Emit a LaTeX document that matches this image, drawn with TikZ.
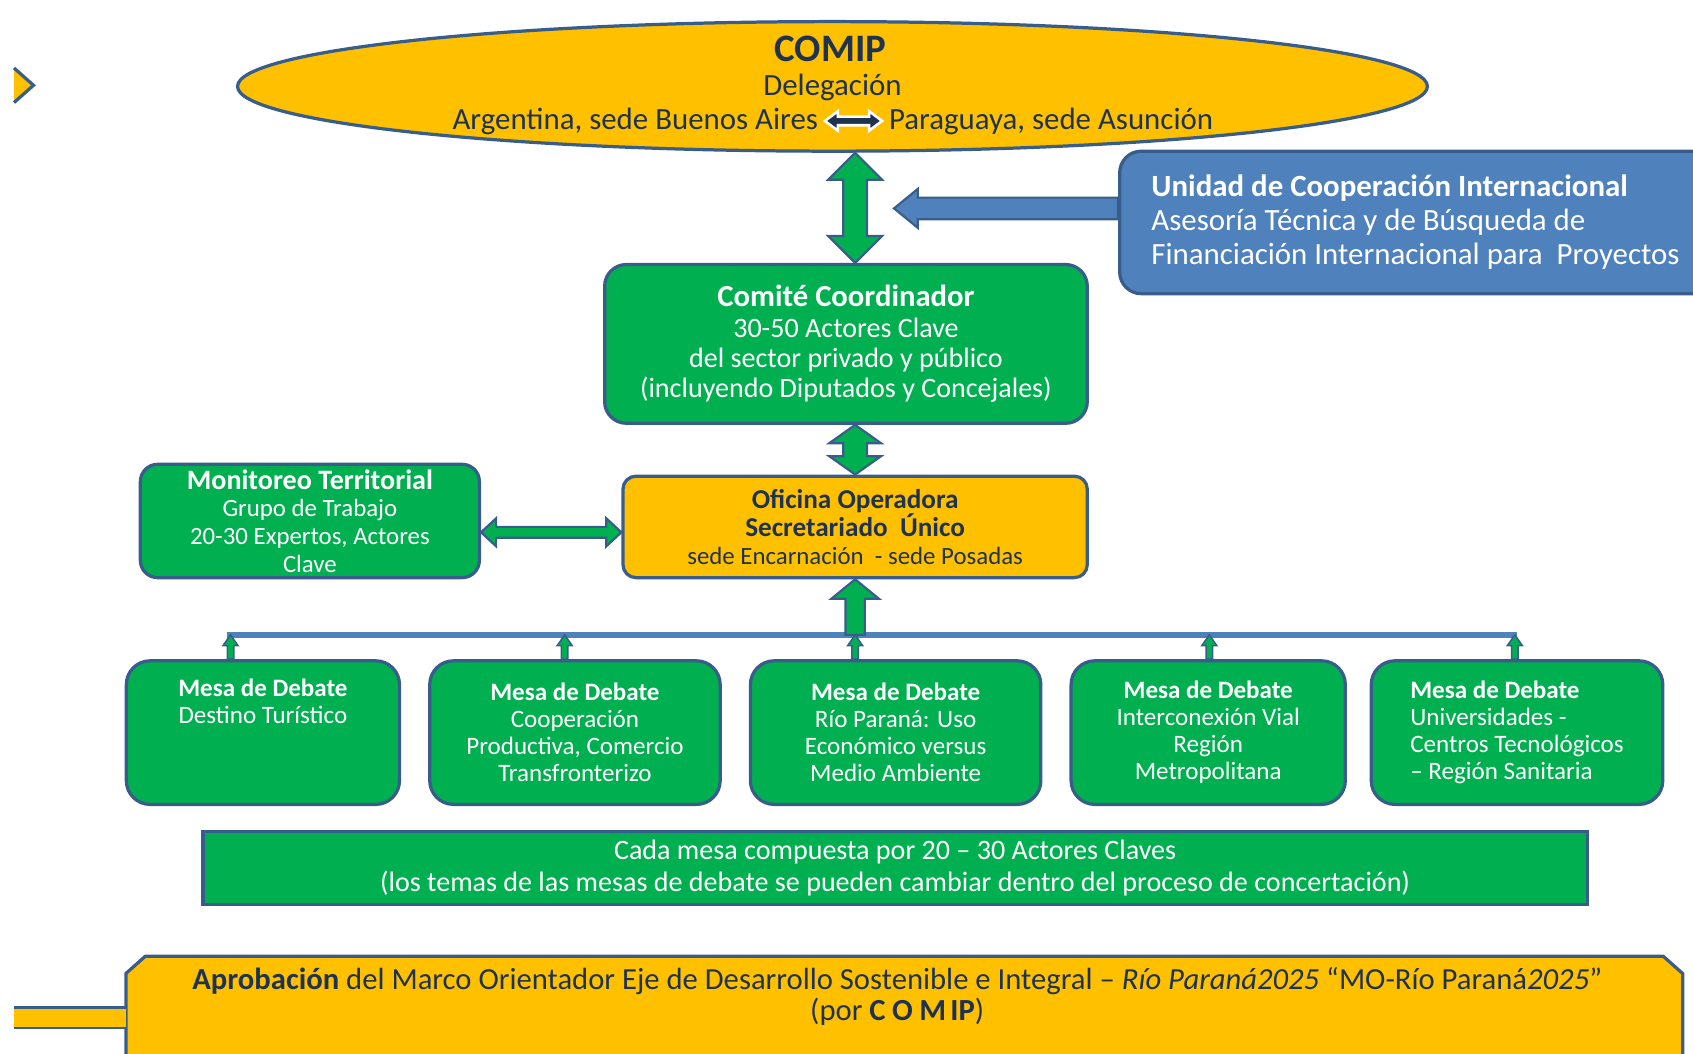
\documentclass[tikz,border=0pt]{standalone}
\usepackage{fontspec}
\setmainfont{Carlito}
\usetikzlibrary{shapes.geometric,calc}
\definecolor{cyel}{HTML}{FFC000}
\definecolor{cgrn}{HTML}{00B050}
\definecolor{cbdr}{HTML}{385D8A}
\definecolor{cblu}{HTML}{4F81BD}
\definecolor{cnav}{HTML}{1F3350}
% vertical double arrow: style, top, bottom, half head, half shaft, head length
\newcommand\myVDA[6]{\filldraw[#1] let \p1=(#2), \p2=(#3) in
 (\x1,\y1) -- (\x1+#4,\y1-#6) -- (\x1+#5,\y1-#6) -- (\x1+#5,\y2+#6) -- (\x1+#4,\y2+#6) -- (\x1,\y2)
 -- (\x1-#4,\y2+#6) -- (\x1-#5,\y2+#6) -- (\x1-#5,\y1-#6) -- (\x1-#4,\y1-#6) -- cycle;}
% horizontal double arrow: style, left, right, ...
\newcommand\myHDA[6]{\filldraw[#1] let \p1=(#2), \p2=(#3) in
 (\x1,\y1) -- (\x1+#6,\y1+#4) -- (\x1+#6,\y1+#5) -- (\x2-#6,\y1+#5) -- (\x2-#6,\y1+#4) -- (\x2,\y1)
 -- (\x2-#6,\y1-#4) -- (\x2-#6,\y1-#5) -- (\x1+#6,\y1-#5) -- (\x1+#6,\y1-#4) -- cycle;}
% up arrow: style, bottom, top (tip), ...
\newcommand\myUA[6]{\filldraw[#1] let \p1=(#2), \p2=(#3) in
 (\x1-#5,\y1) -- (\x1-#5,\y2-#6) -- (\x1-#4,\y2-#6) -- (\x1,\y2) -- (\x1+#4,\y2-#6) -- (\x1+#5,\y2-#6) -- (\x1+#5,\y1) -- cycle;}
% left arrow: style, right start, left tip, ...
\newcommand\myLA[6]{\filldraw[#1] let \p1=(#2), \p2=(#3) in
 (\x1,\y1+#5) -- (\x2+#6,\y1+#5) -- (\x2+#6,\y1+#4) -- (\x2,\y1) -- (\x2+#6,\y1-#4) -- (\x2+#6,\y1-#5) -- (\x1,\y1-#5) -- cycle;}
\begin{document}
\begin{tikzpicture}[x=0.5pt,y=-0.5pt,
  bx/.style={draw=cbdr, line width=1.5pt, inner sep=0pt, align=center},
  ell/.style={bx, ellipse, fill=cyel, minimum width=551pt, minimum height=60pt},
  gbox/.style={bx, fill=cgrn, text=white, rounded corners=10pt},
  ybox/.style={bx, fill=cyel, text=cnav, rounded corners=6pt},
  bbox/.style={bx, fill=cblu, rounded corners=10pt},
  mesa/.style={gbox, rounded corners=11pt, minimum height=66.5pt, font=\fontsize{11.6}{12.5}\selectfont},
  ntxt/.style={inner sep=3pt, text=cnav, font=\fontsize{14.3}{16}\selectfont},
  garr/.style={fill=cgrn, draw=cbdr, line width=1pt},
  sarr/.style={fill=cgrn, draw=cbdr, line width=0.7pt},
  barr/.style={fill=cblu, draw=cbdr, line width=1pt},
  narr/.style={fill=cnav, draw=white, line width=1.2pt},
  busl/.style={draw=cblu, line width=2.5pt}]
\useasboundingbox (0,0) rectangle (1568,976);
\clip (0,0) rectangle (1568,976);

% top-left chevron
\fill[cyel] (13,63) -- (31,79) -- (13,95) -- cycle;
\draw[cbdr, line width=1.5pt] (13,63) -- (31,79) -- (13,95);

% COMIP ellipse
\node[ell] (comip) at (771,80) {};
\node[ntxt, font=\bfseries\fontsize{18}{20}\selectfont] (tcomip) at (769,45) {COMIP};
\node[ntxt] (tdel) at (771,81) {Delegación};
\node[ntxt, anchor=east] (arg) at (764,112) {Argentina, sede Buenos Aires};
\node[ntxt, anchor=west] (par) at (817,112) {Paraguaya, sede Asunción};
\myHDA{narr}{arg.east}{par.west}{4.5pt}{2pt}{6pt}

% Unidad de Cooperacion
\node[bbox, minimum width=341.5pt, minimum height=66pt] (ucoop) at (1378.5,206) {};
\node[anchor=west, inner sep=0pt, align=left, text=white, font=\fontsize{14.3}{15.7}\selectfont] (tuc) at (1066,206)
  {\textbf{Unidad de Cooperación Internacional}\\Asesoría Técnica y de Búsqueda de\\Financiación Internacional para\ \ Proyectos};

% Comite
\node[gbox, minimum width=223.5pt, minimum height=73.5pt, font=\fontsize{13}{14}\selectfont] (cc) at (783.5,318.5)
  {{\fontsize{14.2}{14}\selectfont\bfseries Comité Coordinador}\\30-50 Actores Clave\\del sector privado y público\\(incluyendo Diputados y Concejales)};

% Oficina
\node[ybox, minimum width=215pt, minimum height=47pt, font=\fontsize{12.6}{13}\selectfont] (of) at (792,488)
  {\textbf{Oficina Operadora}\\\textbf{Secretariado\ \ Único}\\{\fontsize{11.5}{13}\selectfont sede Encarnación\ \ - sede Posadas}};

% Monitoreo
\node[gbox, rounded corners=8pt, minimum width=157pt, minimum height=52.5pt, font=\fontsize{11.5}{12.8}\selectfont] (mon) at (287,482.5)
  {{\fontsize{13}{12.8}\selectfont\bfseries Monitoreo Territorial}\\Grupo de Trabajo\\20-30 Expertos, Actores\\Clave};

% Mesas
\node[mesa, minimum width=126.5pt] (m1) at (243.5,678.5) {\textbf{Mesa de Debate}\\Destino Turístico\\\strut\\\strut};
\node[mesa, minimum width=134.5pt] (m2) at (532.5,678.5) {\textbf{Mesa de Debate}\\Cooperación\\Productiva, Comercio\\Transfronterizo};
\node[mesa, minimum width=134.5pt] (m3) at (829.5,678.5) {\textbf{Mesa de Debate}\\Río Paraná: Uso\\Económico versus\\Medio Ambiente};
\node[mesa, minimum width=127pt] (m4) at (1119,678.5) {\textbf{Mesa de Debate}\\Interconexión Vial\\Región\\Metropolitana};
\node[mesa, minimum width=135pt, align=left] (m5) at (1405,678.5) {\textbf{Mesa de Debate}\\Universidades -\\Centros Tecnológicos\\– Región Sanitaria\hspace*{10pt}};

% Cada mesa
\node[gbox, rounded corners=0pt, minimum width=641pt, minimum height=34pt, font=\fontsize{13}{14.5}\selectfont] (cada) at (829,804)
  {Cada mesa compuesta por 20 – 30 Actores Claves\\(los temas de las mesas de debate se pueden cambiar dentro del proceso de concertación)};

% Aprobacion
\node[inner sep=0pt, minimum width=720.5pt, minimum height=60pt] (apr) at (837.5,946) {};
\filldraw[cbdr, fill=cyel, line width=1.5pt] (apr.south west) -- ($(apr.north west)+(0,16)$) -- ($(apr.north west)+(18,0)$)
  -- ($(apr.north east)+(-18,0)$) -- ($(apr.north east)+(0,16)$) -- (apr.south east);
\node[inner sep=0pt, align=center, text=cnav, font=\fontsize{14.2}{14.5}\selectfont] (aprt) at (831,923)
  {\textbf{Aprobación} del Marco Orientador Eje de Desarrollo Sostenible e Integral – \textit{Río Paraná2025} “MO-Río Paraná\textit{2025}”\\(por \textbf{C\hspace{3pt}O\hspace{3pt}M\hspace{2pt}IP})};
\coordinate (lb1) at (13,933);
\coordinate (lb2) at (13,952);
\fill[cyel] (lb1) rectangle (apr.west |- lb2);
\draw[cbdr, line width=1.2pt] (lb1) -- (apr.west |- lb1) (lb2) -- (apr.west |- lb2);

% connectors
\coordinate (ax) at (792,0);
\coordinate (ut) at (828,193);
\coordinate (hy) at (0,493);
\coordinate (bus) at (0,588);
\myVDA{garr}{ax |- comip.south}{ax |- cc.north}{12.5pt}{5.5pt}{12.5pt}
\myLA{barr}{$(ucoop.west)+(0,-13)$}{ut}{9pt}{5pt}{11pt}
\myVDA{garr}{ax |- cc.south}{ax |- of.north}{12pt}{5.5pt}{8.5pt}
\myHDA{garr}{mon.east |- hy}{of.west |- hy}{6.5pt}{2.5pt}{7pt}
\draw[busl] ($(m1.north |- bus)+(-33,0)$) -- ($(m5.north |- bus)+(0,0)$);
\myUA{garr}{ax |- bus}{ax |- of.south}{11pt}{4.5pt}{9pt}
\myUA{sarr}{$(m1.north)+(-30,0)$}{$(m1.north |- bus)+(-30,0)$}{3.5pt}{1.5pt}{5pt}
\myUA{sarr}{$(m2.north)+(-9.5,0)$}{$(m2.north |- bus)+(-9.5,0)$}{3.5pt}{1.5pt}{5pt}
\myUA{sarr}{ax |- m3.north}{ax |- bus}{3.5pt}{1.5pt}{5pt}
\myUA{sarr}{$(m4.north)+(1,0)$}{$(m4.north |- bus)+(1,0)$}{3.5pt}{1.5pt}{5pt}
\myUA{sarr}{$(m5.north)+(-2,0)$}{$(m5.north |- bus)+(-2,0)$}{3.5pt}{1.5pt}{5pt}
\end{tikzpicture}
\end{document}
